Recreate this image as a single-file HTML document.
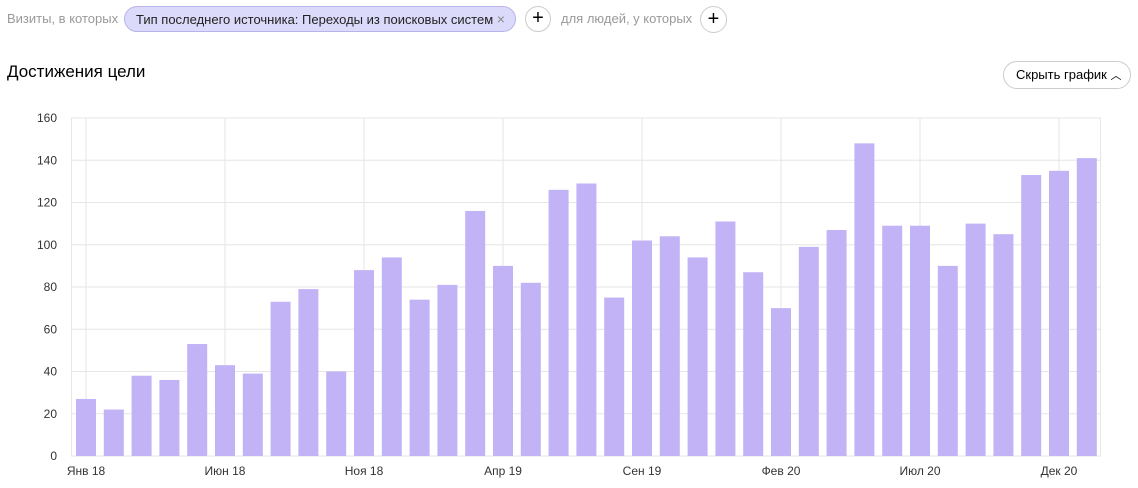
<!DOCTYPE html>
<html><head><meta charset="utf-8"><style>
body{margin:0;width:1138px;height:488px;background:#fff;font-family:"Liberation Sans",sans-serif;overflow:hidden;position:relative}
.t{position:absolute;white-space:nowrap}
</style></head><body>
<div class="t" style="left:7px;top:11px;font-size:13px;color:#999">Визиты, в которых</div>
<div class="t" style="left:124px;top:6px;width:392px;height:26px;border:1px solid #b8b4ea;background:#dcdafa;border-radius:14px;box-sizing:border-box;font-size:13px;color:#222;line-height:24px;padding-left:11px">Тип последнего источника: Переходы из поисковых систем <span style="color:#888;font-size:14px">×</span></div>
<div class="t" style="left:525px;top:6px;width:26px;height:26px;border:1px solid #ccc;border-radius:50%;box-sizing:border-box;text-align:center;line-height:23px;font-size:20px;color:#000">+</div>
<div class="t" style="left:561px;top:11px;font-size:13px;color:#999">для людей, у которых</div>
<div class="t" style="left:700px;top:6px;width:27px;height:27px;border:1px solid #ccc;border-radius:50%;box-sizing:border-box;text-align:center;line-height:24px;font-size:20px;color:#000">+</div>
<div class="t" style="left:7px;top:62px;font-size:17px;color:#000">Достижения цели</div>
<div class="t" style="left:1003px;top:61px;width:128px;height:28px;border:1px solid #ccc;border-radius:14px;box-sizing:border-box;font-size:13px;line-height:26px;padding-left:12px;color:#000">Скрыть график <span style="font-size:11px">︿</span></div>
<svg width="1138" height="488" style="position:absolute;left:0;top:0" font-family="Liberation Sans, sans-serif">
<g id="g"></g>
</svg>
<script>
const v=[27,22,38,36,53,43,39,73,79,40,88,94,74,81,116,90,82,126,129,75,102,104,94,111,87,70,99,107,148,109,109,90,110,105,133,135,141];
const y0=456,k=338/160;let s='';
for(let i=0;i<=8;i++){const y=y0-i*20*k;s+=`<line x1="71" x2="1101" y1="${y}" y2="${y}" stroke="#e6e6e6"/>`;s+=`<text x="57" y="${y+4}" text-anchor="end" font-size="12" fill="#333">${i*20}</text>`;}
const lab=['Янв 18','Июн 18','Ноя 18','Апр 19','Сен 19','Фев 20','Июл 20','Дек 20'];
s+=`<line x1="71.5" x2="71.5" y1="118" y2="456" stroke="#e6e6e6"/><line x1="1100.5" x2="1100.5" y1="118" y2="456" stroke="#e6e6e6"/>`;
lab.forEach((l,j)=>{const x=86+j*5*27.8;s+=`<line x1="${x}" x2="${x}" y1="118" y2="456" stroke="#e6e6e6"/><text x="${x}" y="475" text-anchor="middle" font-size="12" fill="#333">${l}</text>`;});
v.forEach((d,i)=>{const x=76+i*27.8;s+=`<rect x="${x}" y="${y0-d*k}" width="20" height="${d*k}" fill="#c2b3f6"/>`;});
document.getElementById('g').innerHTML=s;
</script>
</body></html>
